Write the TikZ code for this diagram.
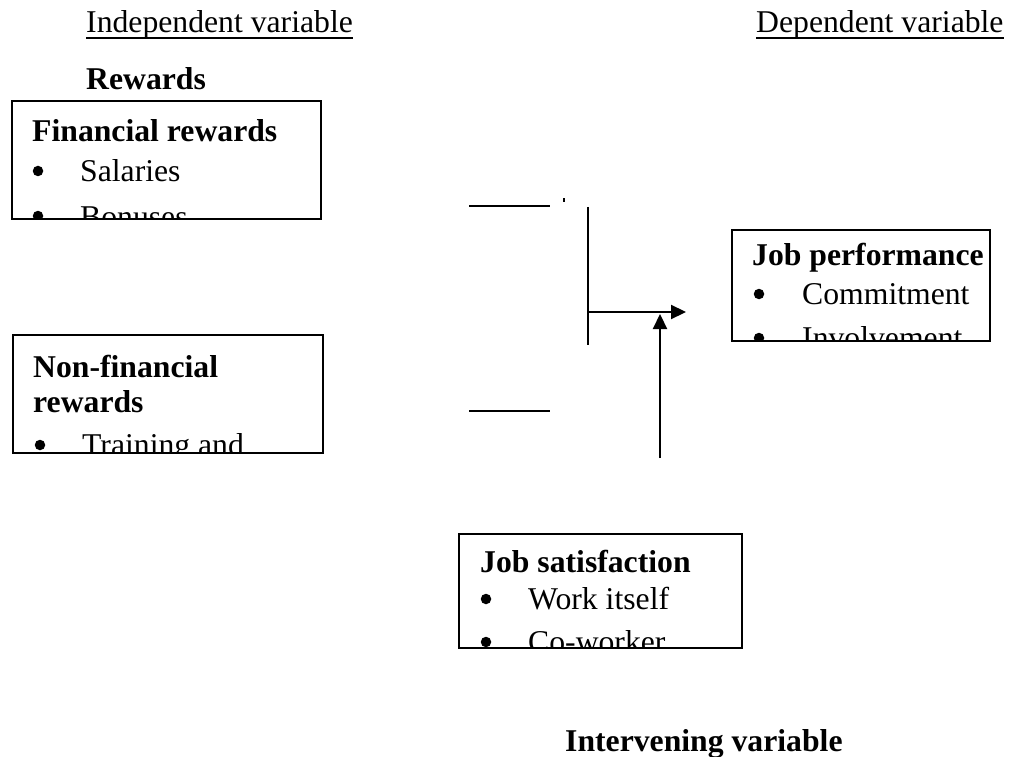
\documentclass[tikz,border=0pt]{standalone}
\usepackage{fontspec}
\setmainfont{Liberation Serif}
\usetikzlibrary{arrows.meta}
\tikzset{
  txt/.style={anchor=base west, inner sep=0pt, font=\fontsize{31.7}{38}\selectfont},
  btxt/.style={anchor=base west, inner sep=0pt, font=\fontsize{31.7}{38}\selectfont\bfseries},
  box/.style={draw, line width=2pt, anchor=north west, inner sep=0pt},
  conn/.style={line width=2.2pt},
  arr/.style={conn, -{Triangle[length=15pt,width=14pt]}},
  bul/.style={circle, fill, inner sep=0pt, minimum size=10.5pt},
  uline/.style={line width=1.8pt},
}
\begin{document}
\begin{tikzpicture}[x=1pt,y=-1pt]
\useasboundingbox (0,0) rectangle (1010,757);

% headers
\node[txt] (iv) at (86,33) {Independent variable};
\draw[uline] ([yshift=-5pt]iv.base west) -- ([yshift=-5pt]iv.base east);
\node[txt] (dv) at (756,33) {Dependent variable};
\draw[uline] ([yshift=-5pt]dv.base west) -- ([yshift=-5pt]dv.base east);
\node[btxt] (rw) at (86,90) {Rewards};

% box 1: financial rewards
\node[box, minimum width=309pt, minimum height=118pt] (fin) at (11,100) {};
\begin{scope}
  \clip ([xshift=1pt,yshift=-1pt]fin.north west) rectangle ([xshift=-1pt,yshift=1pt]fin.south east);
  \node[btxt] (fint) at (32,142) {Financial rewards};
  \node[bul] (finb1) at (38,171) {};
  \node[txt] (finl1) at (80,182) {Salaries};
  \node[bul] (finb2) at (38,216) {};
  \node[txt] (finl2) at (80,227) {Bonuses};
\end{scope}

% box 2: non-financial rewards
\node[box, minimum width=310pt, minimum height=118pt] (nfin) at (12,334) {};
\begin{scope}
  \clip ([xshift=1pt,yshift=-1pt]nfin.north west) rectangle ([xshift=-1pt,yshift=1pt]nfin.south east);
  \node[btxt] (nfint1) at (33,377) {Non-financial};
  \node[btxt] (nfint2) at (33,412) {rewards};
  \node[bul] (nfinb1) at (40,445) {};
  \node[txt] (nfinl1) at (82,455) {Training and};
\end{scope}

% box 3: job performance
\node[box, minimum width=258pt, minimum height=111pt] (jp) at (731,229) {};
\begin{scope}
  \clip ([xshift=1pt,yshift=-1pt]jp.north west) rectangle ([xshift=-1pt,yshift=1pt]jp.south east);
  \node[btxt] (jpt) at (752,265) {Job performance};
  \node[bul] (jpb1) at (759,294) {};
  \node[txt] (jpl1) at (802,304) {Commitment};
  \node[bul] (jpb2) at (759,338) {};
  \node[txt] (jpl2) at (802,348) {Involvement};
\end{scope}

% box 4: job satisfaction
\node[box, minimum width=283pt, minimum height=114pt] (js) at (458,533) {};
\begin{scope}
  \clip ([xshift=1pt,yshift=-1pt]js.north west) rectangle ([xshift=-1pt,yshift=1pt]js.south east);
  \node[btxt] (jst) at (480,572) {Job satisfaction};
  \node[bul] (jsb1) at (486,599) {};
  \node[txt] (jsl1) at (528,609) {Work itself};
  \node[bul] (jsb2) at (486,642) {};
  \node[txt] (jsl2) at (528,652) {Co-worker};
\end{scope}

% connectors
\coordinate (l1a) at (469,206);
\coordinate (l1b) at (550,206);
\draw[conn] (l1a) -- (l1b);
\coordinate (dot) at (564,200);
\fill ([xshift=-0.6pt,yshift=2pt]dot) rectangle ([xshift=0.6pt,yshift=-2pt]dot);
\coordinate (vt) at (588,207);
\coordinate (vb) at (588,345);
\draw[conn] (vt) -- (vb);
\coordinate (hs) at (588,312);
\coordinate (he) at (686,312);
\draw[arr] (hs) -- (he);
\coordinate (l2a) at (469,411);
\coordinate (l2b) at (550,411);
\draw[conn] (l2a) -- (l2b);
\coordinate (us) at (660,458);
\coordinate (ue) at (660,314);
\draw[arr] (us) -- (ue);

% bottom label
\node[btxt] (itv) at (565,751) {Intervening variable};
\end{tikzpicture}
\end{document}
